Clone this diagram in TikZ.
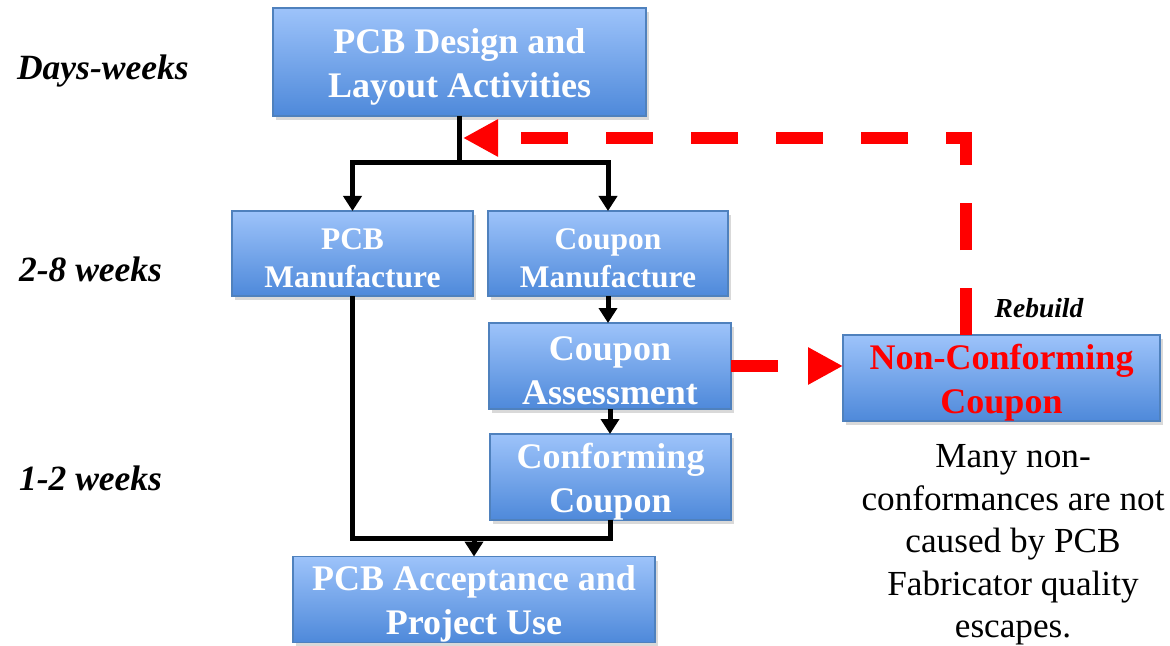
\documentclass[tikz,border=0pt]{standalone}
\usepackage{fontspec}
\setmainfont{Liberation Serif}
\usetikzlibrary{arrows.meta,shadows}
\definecolor{boxtop}{RGB}{157,195,250}
\definecolor{boxbot}{RGB}{78,137,218}
\definecolor{boxedge}{RGB}{79,129,189}
\newcommand{\topstrut}{\rule{0pt}{0.95em}}
\tikzset{
  stage/.style={draw=boxedge, line width=0.6pt, top color=boxtop, bottom color=boxbot,
    drop shadow={opacity=0.3, shadow xshift=1.5pt, shadow yshift=-2pt},
    text=white, font=\bfseries\fontsize{18}{22}\selectfont, align=center,
    inner sep=0pt, outer sep=0pt},
  smallfont/.style={font=\bfseries\fontsize{15.75}{19}\selectfont},
  period/.style={anchor=base west, font=\bfseries\itshape\fontsize{17.75}{21}\selectfont},
  flow/.style={line width=2.5pt, -{Triangle[width=9pt,length=7.5pt]}},
  link/.style={line width=2.5pt},
  rework/.style={red, line width=6pt, dash pattern=on 23.5pt off 19pt,
    -{Triangle[width=17.5pt,length=17.5pt]}}
}
\begin{document}
\begin{tikzpicture}[x=0.5pt,y=-0.5pt]
  \useasboundingbox (0,0) rectangle (1170,646);
  \node[stage, minimum width=186.5pt, minimum height=54pt] (design) at (459.5,62) {\topstrut PCB Design and\\Layout Activities};
  \node[stage, smallfont, minimum width=120.5pt, minimum height=42.5pt] (pcbman) at (352.5,253.5) {\topstrut PCB\\Manufacture};
  \node[stage, smallfont, minimum width=120pt, minimum height=42.5pt] (coupman) at (608,253.5) {\topstrut Coupon\\Manufacture};
  \node[stage, minimum width=121pt, minimum height=43pt] (coupass) at (610,366) {\topstrut Coupon\\Assessment};
  \node[stage, minimum width=120.5pt, minimum height=43pt] (conform) at (610.5,477) {\topstrut Conforming\\Coupon};
  \node[stage, minimum width=181pt, minimum height=42.5pt] (accept) at (474,599.5) {\topstrut PCB Acceptance and\\Project Use};
  \node[stage, text=red, minimum width=158.5pt, minimum height=42.5pt] (noncon) at (1001.5,378) {\topstrut Non-Conforming\\Coupon};
  \node[period] (days) at (10,80) {Days-weeks};
  \node[period] (build) at (12,282) {2-8 weeks};
  \node[period] (final) at (12,490) {1-2 weeks};
  \node[font=\bfseries\itshape\fontsize{13.75}{16}\selectfont] (rebuild) at (1039,308) {Rebuild};
  \node[align=center, font=\fontsize{17.6}{21.3}\selectfont] (note) at (1013,545)
    {Many non-\\conformances are not\\caused by PCB\\Fabricator quality\\escapes.};
  \coordinate (split) at (459.5,163);
  \coordinate (merge) at (474,538);
  \coordinate (loop) at (966,138);
  \coordinate (rejoin) at (463,138);
  \begin{scope}
    \draw[link] (design.south) -- (split);
    \draw[flow] (split) -| (pcbman.north);
    \draw[flow] (split) -| (coupman.north);
    \draw[flow] (coupman.south) -- (coupman.south |- coupass.north);
    \draw[flow] (coupass.south) -- (coupass.south |- conform.north);
    \draw[link] (pcbman.south) |- (merge);
    \draw[flow] (conform.south) |- (merge) -- (accept.north);
  \end{scope}
  \begin{scope}
    \draw[rework] (coupass.east) -- (coupass.east -| noncon.west);
    \draw[rework] (loop |- noncon.north) -- (loop) -- (rejoin);
  \end{scope}
\end{tikzpicture}
\end{document}
